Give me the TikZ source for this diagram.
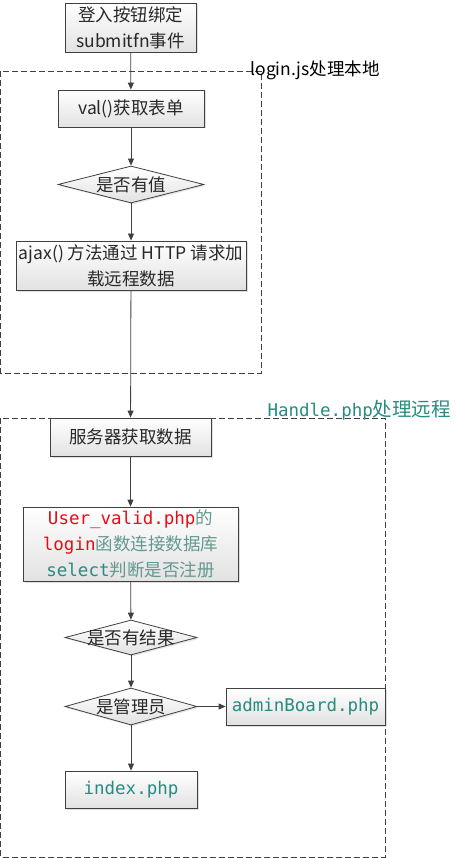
\documentclass[tikz,border=0pt]{standalone}
\usepackage{fontspec}
\setmainfont{Noto Sans CJK SC}
\setmonofont{DejaVu Sans Mono}
\usetikzlibrary{arrows.meta,positioning,shapes.geometric,shadows}
\definecolor{inkgray}{RGB}{40,40,40}
\definecolor{linegray}{RGB}{64,64,64}
\definecolor{codeteal}{RGB}{38,140,128}
\definecolor{paleteal}{RGB}{100,152,144}
\definecolor{codered}{RGB}{232,12,20}
\definecolor{shadegray}{RGB}{226,226,226}
\newcommand\tealcode[1]{{\ttfamily\color{codeteal}#1}}
\newcommand\redcode[1]{{\ttfamily\color{codered}#1}}

\begin{document}
\begin{tikzpicture}[x=1pt,y=-1pt,
  font=\fontsize{17.5}{26}\selectfont,
  proc/.style={draw=linegray,line width=0.8pt,top color=white,bottom color=shadegray,
              drop shadow={shadow xshift=1.5pt,shadow yshift=-1.5pt,opacity=0.25},
              inner sep=1pt,align=center,text=inkgray},
  dec/.style={diamond,draw=linegray,line width=0.8pt,top color=white,bottom color=shadegray,
              drop shadow={shadow xshift=1.5pt,shadow yshift=-1.5pt,opacity=0.2},
              inner sep=0pt,label={[text=inkgray]center:#1}},
  zone/.style={draw=linegray,dash pattern=on 6pt off 3pt,line width=0.8pt},
  arr/.style={-{Triangle[length=7pt,width=6pt]},line width=0.8pt,linegray}]
  \useasboundingbox (0,0) rectangle (457,858);
  % local part
  \draw[zone] (0.8,71) rectangle (261,373);
  \node[anchor=west] (zlocal) at (247,70) {login.js处理本地};
  \node[proc,minimum width=131pt,minimum height=49pt] (bind) at (130.5,27.5) {登入按钮绑定\\submitfn事件};
  \node[proc,minimum width=146pt,minimum height=37pt] (val) at (131,108.5) {val()获取表单};
  \node[dec=是否有值,minimum width=146pt,minimum height=37pt] (hasval) at (131,184.5) {};
  \node[proc,minimum width=230pt,minimum height=49pt] (ajax) at (131,265.5) {ajax() 方法通过 HTTP 请求加\\载远程数据};
  % remote part
  \draw[zone] (0.8,418) rectangle (385,857);
  \node[anchor=west,text=codeteal] (zremote) at (264,410)
    {\tealcode{Handle.php}{\fontsize{19.5}{26}\selectfont 处理远程}};
  \node[proc,minimum width=161pt,minimum height=38pt] (fetch) at (130.5,437) {服务器获取数据};
  \node[proc,minimum width=215pt,minimum height=74pt,text=paleteal] (valid) at (130.5,544)
    {\redcode{User\_valid.php}的\\\redcode{login}函数连接数据库\\\tealcode{select}判断是否注册};
  \node[dec=是否有结果,minimum width=132pt,minimum height=35pt] (hasres) at (131,637.5) {};
  \node[dec=是管理员,minimum width=132pt,minimum height=37pt] (admin) at (131,706.5) {};
  \node[proc,minimum width=159pt,minimum height=37pt] (board) at (305.5,706.5) {\tealcode{adminBoard.php}};
  \node[proc,minimum width=132pt,minimum height=37pt] (index) at (131,789.5) {\tealcode{index.php}};
  \draw[arr] (bind) -- (val);
  \draw[arr] (val) -- (hasval);
  \draw[arr] (hasval) -- (ajax);
  \draw[arr] (ajax) -- (fetch);
  \draw[arr] (fetch) -- (valid);
  \draw[arr] (valid) -- (hasres);
  \draw[arr] (hasres) -- (admin);
  \draw[arr] (admin) -- (board);
  \draw[arr] (admin) -- (index);
\end{tikzpicture}
\end{document}
